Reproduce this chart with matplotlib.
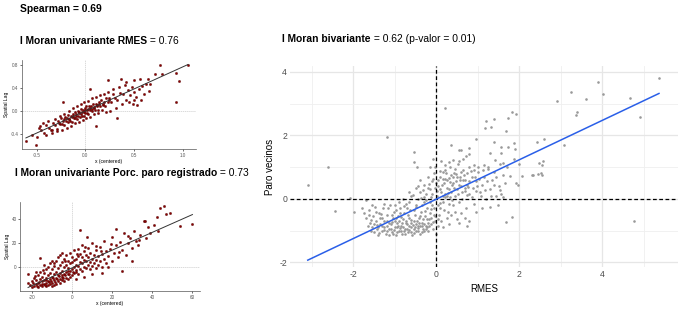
import numpy as np
import matplotlib.pyplot as plt

plt.rcParams['font.family'] = ['Liberation Sans', 'DejaVu Sans']
plt.rcParams['axes.unicode_minus'] = False

# ---- data ----
# main panel: RMES (x) vs Paro vecinos (y), standardized
main_pts = [
    # lower-left lobe
    (-1.75, -0.45), (-1.7, -0.6), (-1.62, -0.35), (-1.6, -0.75), (-1.55, -0.9), (-1.52, -0.55), (-1.5, -1.05),
    (-1.48, -0.25), (-1.45, -0.7), (-1.42, -0.95), (-1.4, -1.15), (-1.38, -0.45), (-1.35, -0.8), (-1.32, -1.0),
    (-1.3, -0.6), (-1.28, -0.3), (-1.25, -0.9), (-1.22, -1.1), (-1.2, -0.7), (-1.18, -0.5), (-1.15, -0.95),
    (-1.12, -0.2), (-1.1, -0.8), (-1.08, -1.05), (-1.05, -0.6), (-1.02, -0.4), (-1.0, -0.9), (-0.98, -1.15),
    (-0.95, -0.75), (-0.93, -0.55), (-0.9, -1.0), (-0.88, -0.3), (-0.85, -0.85), (-0.83, -1.1), (-0.8, -0.65),
    (-0.78, -0.45), (-0.75, -0.95), (-0.72, -0.15), (-0.7, -0.8), (-0.68, -1.05), (-0.65, -0.6), (-0.63, -0.35),
    (-0.6, -0.9), (-0.58, -1.15), (-0.55, -0.7), (-0.52, -0.5), (-0.5, -1.0), (-0.48, -0.25), (-0.45, -0.85),
    (-0.42, -0.6), (-0.4, -1.1), (-0.38, -0.4), (-0.35, -0.75), (-0.32, -0.95), (-0.3, -0.1), (-0.28, -0.55),
    (-0.25, -0.85), (-0.22, -0.3), (-0.2, -1.0), (-0.18, -0.65), (-0.15, -0.45), (-0.12, -0.8), (-0.1, -0.2),
    (-0.08, -0.95), (-0.05, -0.5), (-0.03, -0.7), (0.0, -1.1),
    (-1.3, -0.85), (-1.2, -1.0), (-1.1, -0.95), (-1.05, -1.1), (-0.95, -0.9), (-0.9, -0.7), (-0.85, -1.0),
    (-0.8, -0.9), (-0.75, -1.1), (-0.7, -0.95), (-0.65, -0.85), (-0.6, -1.05), (-0.55, -0.95), (-0.5, -0.8),
    (-0.45, -1.0), (-0.4, -0.85), (-0.35, -1.05), (-0.3, -0.8), (-0.25, -0.95), (-0.2, -0.75), (-1.4, -0.9),
    (-1.35, -0.6), (-1.25, -0.7), (-1.15, -0.75), (-1.0, -0.7), (-0.92, -0.85), (-0.82, -0.75), (-0.72, -0.7),
    (-0.62, -0.75), (-0.52, -0.9), (-0.42, -0.75), (-0.32, -0.65), (-0.22, -0.9), (-0.12, -0.6), (-1.58, -1.0),
    (-1.65, -0.85), (-1.5, -0.8), (-1.45, -0.4), (-1.0, -0.2), (-0.9, -0.1), (-0.8, 0.0), (-0.7, -0.3),
    (-0.6, 0.1), (-0.5, -0.2), (-0.4, 0.2), (-0.3, 0.05), (-0.2, 0.35), (-0.1, 0.15), (-0.15, -0.1),
    (-0.25, 0.15), (-0.35, -0.2), (-0.45, 0.0), (-0.55, -0.35), (-0.65, -0.1),
    (-1.63, -0.52), (-1.57, -0.68), (-1.44, -0.83), (-1.37, -1.07), (-1.33, -0.47), (-1.27, -0.98),
    (-1.19, -0.86), (-1.13, -1.13), (-1.07, -0.73), (-1.03, -0.97), (-0.97, -0.61), (-0.94, -1.06),
    (-0.87, -0.93), (-0.84, -0.58), (-0.79, -1.02), (-0.74, -0.76), (-0.69, -0.52), (-0.66, -0.97),
    (-0.61, -0.66), (-0.57, -0.84), (-0.53, -1.08), (-0.47, -0.71), (-0.43, -0.93), (-0.39, -0.55),
    (-0.34, -0.87), (-0.29, -1.0), (-0.27, -0.38), (-0.23, -0.62), (-0.17, -0.86), (-0.13, -0.33),
    (-0.09, -0.72), (-0.06, -0.28), (-0.02, -0.55), (-0.04, 0.35), (-0.08, 0.62), (-0.12, 0.05),
    (-0.18, 0.48), (-0.24, -0.05), (-0.33, 0.28), (-0.37, 0.02), (-0.43, 0.4), (-0.57, 0.12), (-0.67, 0.2),
    (-0.77, -0.22), (-0.87, -0.45), (-0.97, -0.35), (-1.08, -0.5), (-1.17, -0.3), (-1.27, -0.15), (-1.55, -0.2),
    # around origin / upper right
    (0.02, 0.1), (0.05, 0.4), (0.08, -0.3), (0.1, 0.7), (0.12, 0.2), (0.15, -0.1), (0.18, 0.5), (0.2, 0.9),
    (0.22, 0.05), (0.25, 0.35), (0.28, -0.4), (0.3, 0.65), (0.32, 1.0), (0.35, 0.2), (0.38, 0.45), (0.4, -0.2),
    (0.42, 0.8), (0.45, 0.1), (0.48, 0.55), (0.5, 0.3), (0.52, 1.1), (0.55, -0.1), (0.58, 0.7), (0.6, 0.4),
    (0.62, 0.0), (0.65, 0.9), (0.68, 0.25), (0.7, 0.6), (0.72, -0.3), (0.75, 0.45), (0.78, 1.0), (0.8, 0.15),
    (0.85, 0.7), (0.88, 0.35), (0.9, -0.15), (0.95, 0.55), (1.0, 0.85), (1.05, 0.2), (1.1, 0.45), (1.15, 0.7),
    (1.2, -0.01), (1.25, 0.95), (1.3, 0.3), (1.35, 0.6), (1.4, 0.85), (1.45, 0.1), (1.5, 0.4), (1.56, 0.16),
    (1.6, 0.75), (1.65, 0.5), (1.7, 1.0), (1.77, 0.73), (1.91, 0.51), (1.96, 0.45), (2.07, 0.72), (2.33, 0.76),
    (2.46, 0.79), (2.31, 0.76), (2.52, 0.8), (2.56, 0.76),
    (0.05, 0.6), (0.1, 0.3), (0.15, 0.85), (0.2, 0.15), (0.25, 0.6), (0.3, 0.3), (0.35, 0.75), (0.4, 0.5),
    (0.45, 0.95), (0.5, 0.7), (0.55, 0.45), (0.6, 0.85), (0.65, 0.6), (0.7, 0.35), (0.75, 0.8), (0.8, 0.55),
    (0.9, 0.9), (0.95, 0.25), (0.0, 0.5), (-0.05, 0.8), (-0.1, 0.55), (-0.15, 0.3), (-0.2, 0.7), (-0.3, 0.45),
    (-0.4, 0.6), (-0.5, 0.35), (0.03, -0.2), (0.07, -0.5), (0.12, -0.7), (0.18, -0.35), (0.25, -0.6),
    (0.3, -0.15), (0.35, -0.5), (0.45, -0.4), (0.5, -0.65), (0.6, -0.45), (0.7, -0.6), (0.8, -0.69),
    (0.75, -0.86), (0.95, -0.43), (1.48, -0.18), (1.68, -0.72), (1.83, -0.57), (1.1, -0.3), (1.3, -0.25),
    (0.15, -0.9), (0.05, -0.85), (0.3, -0.8), (0.55, -0.75),
    (0.04, -0.62), (0.09, -0.12), (0.13, 0.42), (0.17, 0.08), (0.21, 0.63), (0.27, 0.18), (0.33, 0.52),
    (0.37, -0.05), (0.43, 0.33), (0.47, 0.77), (0.53, 0.15), (0.57, 0.58), (0.63, 0.22), (0.67, 0.74),
    (0.73, 0.12), (0.77, 0.38), (0.83, 0.88), (0.87, 0.05), (0.93, 0.68), (0.98, 0.4), (1.03, 0.62),
    (1.08, 0.08), (1.13, 0.9), (1.18, 0.28), (1.23, 0.55), (1.33, 0.1), (1.38, 0.42), (1.43, 0.68),
    (1.53, 0.28), (1.62, 0.05), (0.01, 0.25), (0.08, 0.88), (0.16, 0.62), (0.23, 0.82), (0.26, 0.1),
    (0.34, 0.05), (0.41, 0.68),
    # y between 1 and 2
    (-0.53, 1.46), (-0.53, 1.15), (-0.47, 0.99), (0.12, 1.19), (-0.07, 1.25), (-0.15, 1.0), (-0.02, 1.0),
    (0.96, 1.88), (0.35, 1.68), (0.55, 1.53), (0.6, 1.53), (0.8, 1.6), (0.8, 1.4), (0.72, 1.35), (0.65, 1.25),
    (0.55, 1.2), (0.4, 1.22), (0.3, 1.15), (1.30, 1.45), (1.40, 1.78), (1.57, 1.63), (1.57, 1.45), (1.73, 1.63),
    (1.88, 1.76), (1.90, 1.58), (1.88, 1.24), (2.0, 1.10), (2.43, 1.80), (1.41, 1.22), (1.53, 1.09),
    (1.62, 1.12), (1.0, 1.0), (1.15, 1.05), (0.2, 1.05), (2.60, 1.88), (3.08, 1.68), (2.47, 1.13),
    (2.58, 1.19), (2.55, 1.05), (1.25, 1.0), (0.9, 1.05),
    # high values
    (0.22, 2.87), (1.21, 2.44), (1.38, 2.52), (1.17, 2.24), (1.33, 2.25), (1.68, 2.15), (1.83, 2.72),
    (1.92, 2.67), (1.73, 2.54), (2.90, 3.08), (3.26, 3.36), (3.90, 3.68), (4.02, 3.29), (3.62, 3.16),
    (3.37, 2.65), (3.40, 2.72), (4.67, 3.18), (5.37, 3.82), (4.92, 2.58),
    # isolated
    (-1.20, 1.94), (-2.62, 0.99), (-3.10, 0.45), (-2.44, -0.38), (-1.98, -0.41), (-2.07, 0.04),
    (-1.79, -0.3), (-1.7, -0.05), (4.76, -0.71),
]
rmes = [p[0] for p in main_pts]
paro_vecinos = [p[1] for p in main_pts]
main_fit = (0.62, -0.01)   # slope, intercept of the blue line

# small panel 1: RMES, x centered vs spatial lag
rmes_pts = [
    (-0.46, -0.33), (-0.42, -0.38), (-0.40, -0.24), (-0.37, -0.30), (-0.35, -0.33), (-0.33, -0.22),
    (-0.31, -0.24), (-0.29, -0.31), (-0.28, -0.17), (-0.26, -0.23), (-0.25, -0.12), (-0.24, -0.23),
    (-0.23, -0.17), (-0.22, -0.24), (-0.21, -0.10), (-0.20, -0.18), (-0.19, -0.12), (-0.18, -0.19),
    (-0.175, -0.07), (-0.165, -0.14), (-0.155, -0.18), (-0.15, -0.08), (-0.14, -0.11), (-0.135, -0.19),
    (-0.125, -0.05), (-0.12, -0.12), (-0.11, -0.01), (-0.105, -0.12), (-0.095, -0.06), (-0.09, -0.14),
    (-0.08, 0.00), (-0.075, -0.08), (-0.065, -0.02), (-0.06, -0.10), (-0.05, 0.03), (-0.045, -0.05),
    (-0.035, -0.09), (-0.03, 0.02), (-0.02, -0.02), (-0.015, -0.09), (-0.005, 0.05), (0.0, -0.03),
    (0.01, 0.09), (0.015, -0.03), (0.025, 0.03), (0.03, -0.05), (0.04, 0.09), (0.05, 0.02),
    (0.06, 0.08), (0.065, 0.00), (0.075, 0.13), (0.085, 0.06), (0.095, 0.01), (0.105, 0.12),
    (0.115, 0.09), (0.125, 0.02), (0.135, 0.16), (0.15, 0.09), (0.16, 0.20), (0.175, 0.10),
    (0.19, 0.16), (0.20, 0.09), (0.215, 0.23), (0.23, 0.16), (0.245, 0.22), (0.26, 0.15),
    (0.28, 0.29), (0.30, 0.22), (0.32, 0.19), (0.35, 0.31),
    (-0.27, -0.21), (-0.17, -0.15), (-0.13, -0.08), (-0.07, -0.04), (-0.04, -0.01), (0.02, 0.01),
    (0.045, 0.05), (0.09, 0.07), (0.12, 0.11), (0.18, 0.13), (-0.215, -0.14), (-0.1, -0.09),
    (0.0, 0.02), (0.07, 0.03), (0.14, 0.12), (0.24, 0.19), (0.38, 0.30), (0.40, 0.45), (0.42, 0.20),
    (0.44, 0.36), (0.46, 0.28), (0.48, 0.42), (0.50, 0.33), (0.52, 0.25), (0.55, 0.38), (0.58, 0.44),
    (0.60, 0.30), (0.62, 0.48),
    (-0.55, -0.42), (-0.50, -0.45), (-0.48, -0.30), (-0.44, -0.22), (-0.40, -0.42), (-0.38, -0.18),
    (-0.34, -0.38), (-0.31, -0.14), (-0.29, -0.36), (-0.26, -0.08), (-0.24, -0.34), (-0.22, -0.05),
    (-0.19, -0.30), (-0.17, 0.00), (-0.15, -0.27), (-0.13, 0.05), (-0.11, -0.22), (-0.09, 0.08),
    (-0.07, -0.20), (-0.05, 0.12), (-0.03, -0.16), (-0.01, 0.15), (0.01, -0.12), (0.03, 0.18), (0.05, -0.10),
    (0.07, 0.22), (0.09, -0.06), (0.11, 0.25), (0.13, -0.03), (0.15, 0.28), (0.17, 0.02), (0.19, 0.30),
    (0.21, -0.02), (0.23, 0.34), (0.25, 0.00), (0.28, 0.38), (0.31, 0.05), (0.34, 0.42), (0.37, 0.12),
    (0.41, 0.50), (0.45, 0.15), (0.50, 0.55), (0.53, 0.10), (0.57, 0.20), (0.65, 0.35),
    (-0.61, -0.53), (-0.51, -0.60), (0.76, 0.81), (1.05, 0.81), (0.93, 0.15), (0.96, 0.53), (0.71, 0.65),
    (0.78, 0.65), (0.93, 0.67), (0.56, 0.56), (0.64, 0.56), (0.66, 0.47), (0.36, 0.56), (0.23, 0.55),
    (0.32, -0.13), (0.49, 0.12), (0.50, 0.20), (-0.23, 0.15), (0.05, 0.38), (0.11, -0.26), (-0.47, -0.27),
    (-0.34, -0.34),
]
rmes_x = [p[0] for p in rmes_pts]
rmes_lag = [p[1] for p in rmes_pts]
rmes_fit = (0.776, 0.0)

# small panel 2: Porc. paro registrado, x centered vs spatial lag
paro_pts = [
    (-21, -15), (-20, -12), (-19, -16), (-19, -9), (-18, -14), (-18, -11), (-17, -17), (-17, -13), (-17, -7),
    (-16, -15), (-16, -10), (-16, -4), (-15, -16), (-15, -12), (-15, -8), (-14, -14), (-14, -11), (-14, -5),
    (-13, -16), (-13, -13), (-13, -9), (-13, -2), (-12, -15), (-12, -12), (-12, -7), (-12, 0), (-11, -14),
    (-11, -10), (-11, -5), (-11, 3), (-10, -16), (-10, -13), (-10, -8), (-10, -2), (-9, -15), (-9, -11),
    (-9, -6), (-9, 1), (-8, -14), (-8, -9), (-8, -4), (-8, 5), (-7, -12), (-7, -7), (-7, -1), (-7, 8),
    (-6, -13), (-6, -10), (-6, -5), (-6, 2), (-5, -11), (-5, -8), (-5, -3), (-5, 4), (-4, -12), (-4, -6),
    (-4, 0), (-4, 7), (-3, -9), (-3, -4), (-3, 2), (-3, 10), (-2, -10), (-2, -6), (-2, -1), (-2, 5),
    (-1, -8), (-1, -3), (-1, 3), (-1, 12), (0, -7), (0, -2), (0, 4), (0, 8), (1, -5), (1, 0), (1, 6),
    (1, 14), (2, -4), (2, 2), (2, 7), (3, -6), (3, 1), (3, 9), (3, 15), (4, -2), (4, 4), (4, 11), (5, -3),
    (5, 3), (5, 8), (5, 18), (6, 0), (6, 6), (6, 13), (7, -1), (7, 5), (7, 10), (8, 2), (8, 8), (8, 16),
    (9, -2), (9, 4), (9, 12), (10, 1), (10, 7), (10, 20), (11, 3), (11, 10), (12, -1), (12, 6), (12, 14),
    (13, 2), (13, 9), (14, 5), (14, 17), (15, 0), (15, 11), (16, 7), (16, 22), (17, 3), (17, 13), (18, 9),
    (19, 15), (20, 5), (20, 25), (21, 12), (22, 18), (23, 8), (24, 21), (25, 14), (26, 28), (27, 10),
    (28, 20), (29, 24), (30, 16), (31, 30), (32, 22), (33, 18), (34, 27), (36, 38), (37, 24), (38, 33),
    (39, 28), (41, 35), (43, 30), (22, 32), (3.8, 30.8), (7.6, 25.3), (-6.3, 10), (-16, 7.8), (-22, -6),
    (-22, -13), (45.6, 50.8), (43.8, 48.9), (48.8, 44.7), (46.6, 44.2), (42.1, 41.4), (60, 36.1),
    (53.8, 34.2), (36.3, 38.6), (-20, -17), (-18, -4), (-14, 2), (-10, 5), (-5, 12), (2, -10), (6, -8),
    (10, -6), (15, -5), (18, 0), (25, -3), (30, 5),
    (-19.4, -13.3), (-17.7, -15.6), (-16.3, -12.4), (-15.2, -14.1), (-13.6, -15.3), (-12.8, -10.6),
    (-11.5, -12.7), (-10.6, -11.2), (-9.7, -9.4), (-8.4, -12.8), (-7.6, -10.3), (-6.5, -7.2),
    (-5.3, -6.4), (-4.4, -9.5), (-3.6, -6.8), (-2.3, -3.6), (-1.4, -5.5), (0.6, -4.3), (1.7, -2.4),
    (-18.6, -7.8), (-14.7, -2.6), (-9.3, 3.5), (-3.7, 5.4), (2.6, 10.8), (6.4, 16.4), (11.7, 17.3),
    (14.5, 13.6), (19.6, 19.2), (23.4, 12.3), (27.7, 25.6), (33.5, 22.8),
]
paro_x = [p[0] for p in paro_pts]
paro_lag = [p[1] for p in paro_pts]
paro_fit = (0.74, -0.7)

fig = plt.figure(figsize=(6.79, 3.12), dpi=100)

# ---- main bivariate panel ----
ax = fig.add_axes([0.427, 0.144, 0.571, 0.644])
ax.set_xlim(-3.53, 5.82)
ax.set_ylim(-2.15, 4.18)
ax.set_xticks([-2, 0, 2, 4])
ax.set_xticks([-3, -1, 1, 3, 5], minor=True)
ax.set_yticks([-2, 0, 2, 4])
ax.set_yticks([-1, 1, 3], minor=True)
ax.grid(which='major', color='#e6e6e6', lw=0.9)
ax.grid(which='minor', color='#efefef', lw=0.6)
ax.set_axisbelow(True)
for s in ax.spines.values():
    s.set_visible(False)
ax.tick_params(which='both', length=0, labelsize=6.2, labelcolor='#4d4d4d', pad=2)
ax.scatter(rmes, paro_vecinos, s=3.5, color='#999999', lw=0, zorder=2)
ax.axhline(0, color='black', ls=(0, (3, 2)), lw=0.9, zorder=3)
ax.axvline(0, color='black', ls=(0, (3, 2)), lw=0.9, zorder=3)
xs = np.array([min(rmes), max(rmes)])
ax.plot(xs, main_fit[0] * xs + main_fit[1], color='#2a5fe8', lw=1.1, zorder=4)
ax.set_xlabel('RMES', fontsize=7, labelpad=4)
ax.set_ylabel('Paro vecinos', fontsize=7, labelpad=3)


def small_panel(rect, x, y, fit, xlim, ylim, xt, yt, xtl, ytl):
    a = fig.add_axes(rect)
    a.set_xlim(*xlim)
    a.set_ylim(*ylim)
    a.axhline(0, color='#cccccc', ls=(0, (2, 1)), lw=0.5, zorder=1)
    a.axvline(0, color='#cccccc', ls=(0, (2, 1)), lw=0.5, zorder=1)
    a.scatter(x, y, s=3, color='#8b0000', edgecolor='#3a0000', lw=0.2, zorder=2)
    xx = np.array([min(x), max(x)])
    a.plot(xx, fit[0] * xx + fit[1], color='#333333', lw=0.7, zorder=3)
    for side in ('top', 'right'):
        a.spines[side].set_visible(False)
    for side in ('left', 'bottom'):
        a.spines[side].set_color('#555555')
        a.spines[side].set_linewidth(0.5)
    a.set_xticks(xt)
    a.set_xticklabels(xtl)
    a.set_yticks(yt)
    a.set_yticklabels(ytl)
    a.tick_params(length=1.5, width=0.4, labelsize=3.3, labelcolor='#555555', pad=1)
    a.set_xlabel('x (centered)', fontsize=3.6, labelpad=1)
    a.set_ylabel('Spatial Lag', fontsize=3.6, labelpad=1)
    return a


small_panel([0.0324, 0.522, 0.256, 0.285], rmes_x, rmes_lag, rmes_fit,
            (-0.65, 1.13), (-0.67, 0.89), [-0.5, 0, 0.5, 1.0], [-0.4, 0, 0.4, 0.8],
            ['-0.5', '0.0', '0.5', '1.0'], ['-0.4', '0.0', '0.4', '0.8'])
small_panel([0.0295, 0.067, 0.265, 0.285], paro_x, paro_lag, paro_fit,
            (-26, 63.75), (-20, 54), [-20, 0, 20, 40, 60], [0, 20, 40],
            ['-20', '0', '20', '40', '60'], ['0', '20', '40'])

# ---- titles (bold part + plain part) ----
fig.text(0.029, 0.962, 'Spearman = 0.69', fontsize=7.4, fontweight='bold', va='baseline')


def two_part(x, y, bold, plain):
    t = fig.text(x, y, bold, fontsize=7.4, fontweight='bold', va='baseline')
    fig.canvas.draw()
    bb = t.get_window_extent().transformed(fig.transFigure.inverted())
    fig.text(bb.x1, y, plain, fontsize=7.4, va='baseline')


two_part(0.029, 0.860, 'I Moran univariante RMES', ' = 0.76')
two_part(0.022, 0.437, 'I Moran univariante Porc. paro registrado', ' = 0.73')
two_part(0.416, 0.866, 'I Moran bivariante', ' = 0.62 (p-valor = 0.01)')

fig.savefig('out.png', dpi=100)
